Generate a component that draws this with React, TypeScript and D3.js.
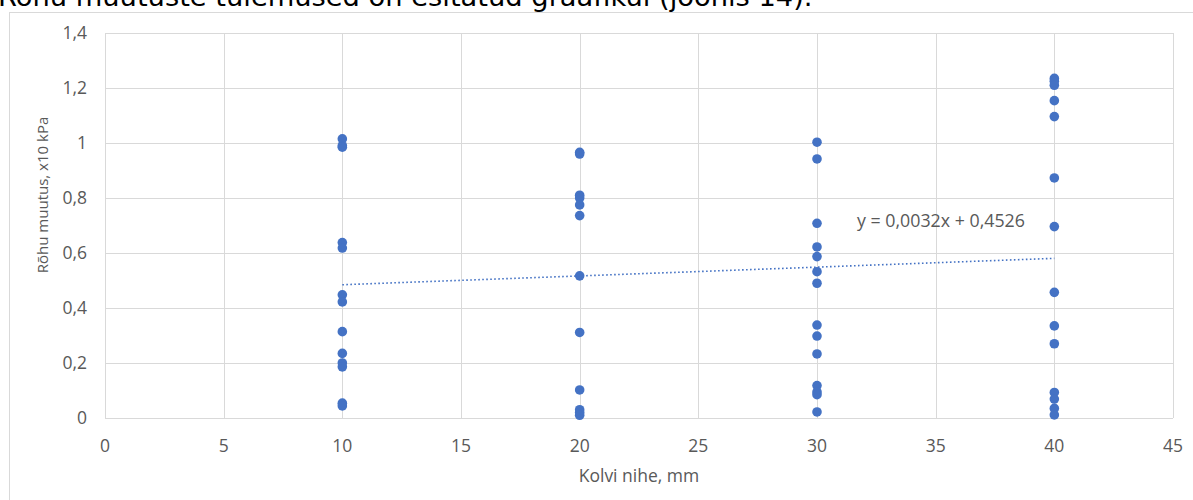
import React from "react";
import * as d3 from "d3";

const xTicks = [0, 5, 10, 15, 20, 25, 30, 35, 40, 45];
const yTicks = [0, 0.2, 0.4, 0.6, 0.8, 1, 1.2, 1.4];

const x10 = [1.015, 0.99, 0.985, 0.638, 0.618, 0.448, 0.422, 0.314, 0.235, 0.2, 0.186, 0.054, 0.044];
const x20 = [0.966, 0.96, 0.81, 0.8, 0.775, 0.736, 0.517, 0.311, 0.102, 0.03, 0.02, 0.01];
const x30 = [1.003, 0.942, 0.708, 0.622, 0.587, 0.532, 0.49, 0.338, 0.298, 0.233, 0.118, 0.095, 0.085, 0.022];
const x40 = [1.235, 1.225, 1.21, 1.154, 1.096, 0.873, 0.696, 0.457, 0.335, 0.27, 0.093, 0.069, 0.035, 0.011];

const groups: [number, number[]][] = [[10, x10], [20, x20], [30, x30], [40, x40]];

const slope = 0.0032;
const intercept = 0.4526;
const trendRange = [10, 40];

const fmt = (v: number) => String(v).replace(".", ",");

export default function App() {
  const W = 1193, H = 500;
  const x = d3.scaleLinear().domain([0, 45]).range([105, 1173]);
  const y = d3.scaleLinear().domain([0, 1.4]).range([418, 33]);
  const font = "'Open Sans', 'Noto Sans', sans-serif";
  const grid = "#d9d9d9";
  const txt = "#595959";
  const blue = "#4472C4";
  const fs = 17.5;
  const pts = groups.flatMap(([gx, vals]) => vals.map((v) => [gx, v] as [number, number]));
  const trend = d3.line<number>().x((d) => x(d)).y((d) => y(slope * d + intercept));
  return (
    <svg width={W} height={H} style={{ position: "absolute", left: 0, top: 0, background: "#fff" }}>
      <text x={-2} y={6} fontFamily="'DejaVu Sans', Verdana, sans-serif" fontSize={27.3} fill="#000">
        Rõhu muutuste tulemused on esitatud graafikul (joonis 14).
      </text>
      <rect x={9.5} y={12.5} width={1300} height={600} fill="none" stroke={grid} strokeWidth={1} />
      {yTicks.map((t) => (
        <line key={"h" + t} x1={x(0)} x2={x(45)} y1={Math.round(y(t)) + 0.5} y2={Math.round(y(t)) + 0.5} stroke={grid} />
      ))}
      {xTicks.map((t) => (
        <line key={"v" + t} y1={y(0)} y2={y(1.4)} x1={Math.round(x(t)) + 0.5} x2={Math.round(x(t)) + 0.5} stroke={grid} />
      ))}
      {yTicks.map((t) => (
        <text key={"yl" + t} x={x(0) - 18} y={y(t)} dy="0.35em" textAnchor="end" fontFamily={font} fontSize={fs} fill={txt}>
          {fmt(t)}
        </text>
      ))}
      {xTicks.map((t) => (
        <text key={"xl" + t} x={x(t)} y={446} dy="0.35em" textAnchor="middle" fontFamily={font} fontSize={fs} fill={txt}>
          {fmt(t)}
        </text>
      ))}
      <text x={639} y={476} dy="0.35em" textAnchor="middle" fontFamily={font} fontSize={fs} fill={txt}>
        Kolvi nihe, mm
      </text>
      <text transform={`translate(43,195) rotate(-90)`} textAnchor="middle" dy="0.35em" fontFamily={font} fontSize={15} fill={txt}>
        Rõhu muutus, x10 kPa
      </text>
      {pts.map(([gx, v], i) => (
        <circle key={i} cx={x(gx)} cy={y(v)} r={4.8} fill={blue} />
      ))}
      <path d={trend(trendRange) || ""} fill="none" stroke={blue} strokeWidth={1.6} strokeDasharray="1.6 2.4" />
      <text x={857} y={221} dy="0.35em" fontFamily={font} fontSize={17.8} fill={txt}>
        y = 0,0032x + 0,4526
      </text>
    </svg>
  );
}
